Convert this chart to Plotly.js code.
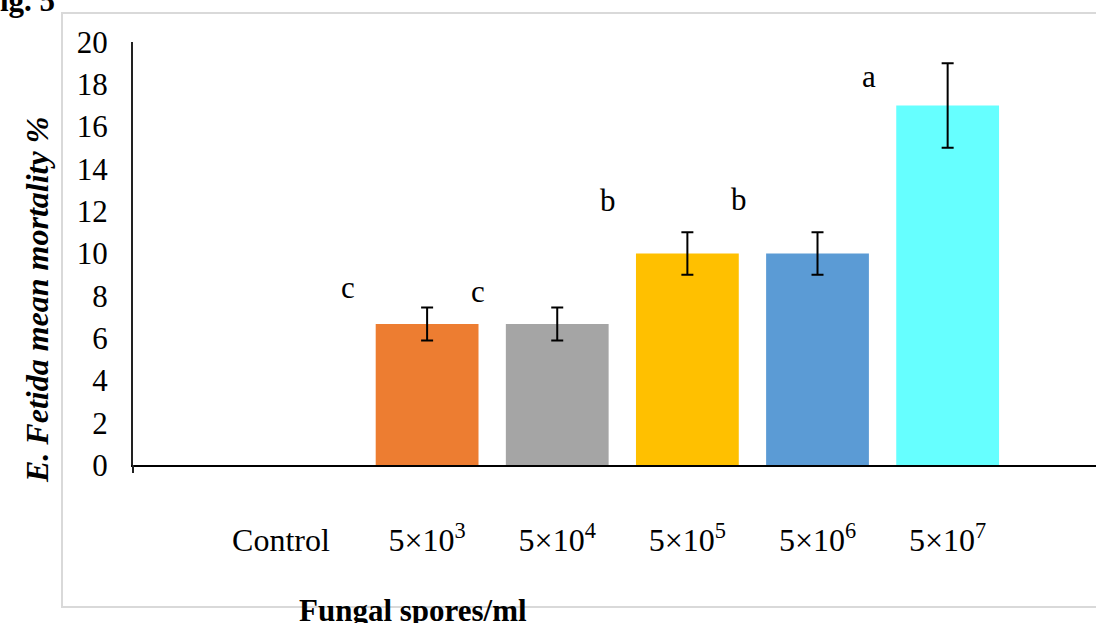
<!DOCTYPE html>
<html>
<head>
<meta charset="utf-8">
<script src="https://cdn.plot.ly/plotly-3.0.1.min.js"></script>
<style>html,body{margin:0;padding:0;background:#fff;}#chart{width:1096px;height:623px;}</style>
</head>
<body>
<div id="chart"></div>
<script>
const categories = ["Control", "C1", "C2", "C3", "C4", "C5"];
const tickLabels = ["Control\u00a0\u00a0\u00a0\u00a0", "5×10<sup>3</sup>", "5×10<sup>4</sup>", "5×10<sup>5</sup>", "5×10<sup>6</sup>", "5×10<sup>7</sup>"];
const meanMortality = [0, 6.67, 6.67, 10, 10, 17];
const stdError = [0, 0.78, 0.78, 1, 1, 2];
const barColors = ["#ED7D31", "#ED7D31", "#A5A5A5", "#FFC000", "#5B9BD5", "#66FFFF"];
const groupLetters = ["", "c", "c", "b", "b", "a"];
const letterHeights = [0, 8.4, 8.2, 12.5, 12.55, 18.35];
const yTicks = [0, 2, 4, 6, 8, 10, 12, 14, 16, 18, 20];

const FONT = "Liberation Serif";

// Control has zero mortality: no visible bar or error bar is drawn for it
const shown = meanMortality.map((v, i) => i).filter(i => meanMortality[i] > 0);

const trace = {
  type: "bar",
  x: shown.map(i => categories[i]),
  y: shown.map(i => meanMortality[i]),
  marker: {color: shown.map(i => barColors[i]), line: {width: 0}},
  error_y: {type: "data", array: shown.map(i => stdError[i]), visible: true, color: "#000", thickness: 2, width: 6},
  hoverinfo: "y"
};

const annotations = [];
groupLetters.forEach((t, i) => {
  if (!t) return;
  annotations.push({
    x: i, y: letterHeights[i], xref: "x", yref: "y",
    xanchor: "center", yanchor: "middle",
    text: t, showarrow: false, xshift: -79,
    font: {family: FONT, size: 31, color: "#000"}
  });
});
annotations.push({
  xref: "paper", yref: "paper", x: (37 - 133) / 963, y: (465 - 300) / 423,
  xanchor: "center", yanchor: "middle",
  text: "<b><i>E. Fetida mean mortality %</i></b>", textangle: -90, showarrow: false,
  font: {family: FONT, size: 32, color: "#000"}
});
annotations.push({
  xref: "paper", yref: "paper", x: (297 - 133) / 963, y: (465 - 610) / 423,
  xanchor: "left", yanchor: "middle",
  text: "<b>Fungal spores/ml</b>", showarrow: false,
  font: {family: FONT, size: 31, color: "#000"}
});
annotations.push({
  xref: "paper", yref: "paper", x: (57 - 133) / 963, y: (465 - 0) / 423,
  xanchor: "right", yanchor: "middle",
  text: "<b>Fig. 5</b>", showarrow: false,
  font: {family: FONT, size: 31, color: "#000"}
});

const layout = {
  width: 1096, height: 623,
  margin: {l: 133, r: 0, t: 42, b: 158, pad: 0},
  paper_bgcolor: "#fff", plot_bgcolor: "rgba(0,0,0,0)",
  showlegend: false,
  bargap: 0.21,
  font: {family: FONT, color: "#000"},
  xaxis: {
    type: "category", categoryorder: "array", categoryarray: categories,
    tickvals: categories, ticktext: tickLabels,
    range: [-1.26, 6.14], fixedrange: true,
    showline: true, linecolor: "#000", linewidth: 2,
    ticks: "", showgrid: false, zeroline: false,
    tickfont: {family: FONT, size: 32, color: "#000"},
    ticklabelstandoff: 46
  },
  yaxis: {
    range: [0, 20], tickvals: yTicks, fixedrange: true,
    showline: true, linecolor: "#222", linewidth: 2,
    ticks: "", showgrid: false, zeroline: false,
    tickfont: {family: FONT, size: 31, color: "#000"},
    ticklabelstandoff: 17
  },
  shapes: [
    {type: "rect", xref: "paper", yref: "paper",
     x0: (62 - 133) / 963, x1: (1100 - 133) / 963,
     y0: (465 - 607) / 423, y1: (465 - 13) / 423,
     line: {color: "#d9d9d9", width: 2}, fillcolor: "rgba(0,0,0,0)", layer: "below"},
    {type: "line", xref: "paper", yref: "paper", x0: 0, x1: 0,
     y0: 0, y1: -8 / 423, line: {color: "#222", width: 2}}
  ],
  annotations: annotations
};

Plotly.newPlot("chart", [trace], layout, {displayModeBar: false, staticPlot: true});
</script>
</body>
</html>
